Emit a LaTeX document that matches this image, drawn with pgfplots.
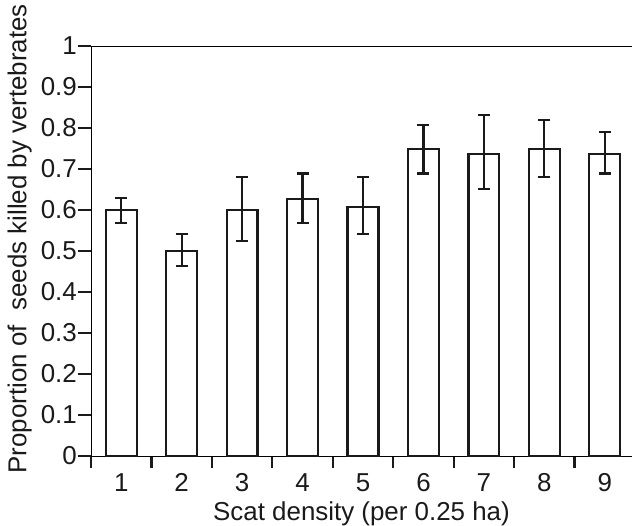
\documentclass[border=0pt]{standalone}
\usepackage{fontspec}
\setmainfont{Liberation Sans}
\usepackage{pgfplots}
\pgfplotsset{compat=1.18}
\usetikzlibrary{calc}
\definecolor{ink}{HTML}{1A1A1A}

\begin{document}
\begin{tikzpicture}
\begin{axis}[
  scale only axis, width=541bp, height=410bp,
  xmin=0.5, xmax=9.45, ymin=0, ymax=1,
  axis x line=box, axis y line=left,
  axis line style={-, ink, line width=2.3bp},
  every outer y axis line/.style={-}, every outer x axis line/.style={-},
  tick align=outside, major tick length=13bp, minor tick length=12bp,
  tick style={ink, line width=2.2bp},
  xtick={1,...,9}, xtick pos=bottom,
  major x tick style={draw=none},
  minor xtick={0.5,1.5,...,8.5},
  ytick={0,0.1,...,1}, ytick pos=left,
  /pgf/number format/assume math mode=true,
  ticklabel style={font=\fontsize{26}{30}\selectfont, color=ink},
  yticklabel style={inner sep=1bp},
  xticklabel style={inner sep=4bp},
  xlabel={Scat density (per 0.25 ha)},
  ylabel={Proportion of\ \ seeds killed by vertebrates},
  label style={font=\fontsize{26}{30}\selectfont, color=ink, inner sep=0pt},
  xlabel style={at={(axis description cs:0.5,0)}, anchor=north, yshift=-46bp},
  ylabel style={at={(axis description cs:-0.109,0.53)}, anchor=south},
  clip=false,
]
\addplot[ybar, bar width=0.51, draw=ink, fill=white, line width=2.2bp,
  error bars/.cd, y dir=both, y explicit,
  error bar style={ink, line width=2.2bp},
  error mark options={rotate=90, mark size=6bp, line width=2.2bp, ink}]
  coordinates {
  (1,0.600) += (0,0.030) -= (0,0.031)
  (2,0.500) += (0,0.042) -= (0,0.037)
  (3,0.600) += (0,0.080) -= (0,0.076)
  (4,0.627) += (0,0.062) -= (0,0.058)
  (5,0.608) += (0,0.072) -= (0,0.067)
  (6,0.748) += (0,0.059) -= (0,0.059)
  (7,0.737) += (0,0.095) -= (0,0.085)
  (8,0.748) += (0,0.071) -= (0,0.068)
  (9,0.737) += (0,0.053) -= (0,0.048)
  };
\coordinate (bl) at (rel axis cs:0,0);
\coordinate (tr) at (rel axis cs:1,1);
\end{axis}
\pgfresetboundingbox
\path ($(bl)+(-91bp,-70bp)$) rectangle ($(tr)+(0bp,46bp)$);
\end{tikzpicture}
\end{document}
